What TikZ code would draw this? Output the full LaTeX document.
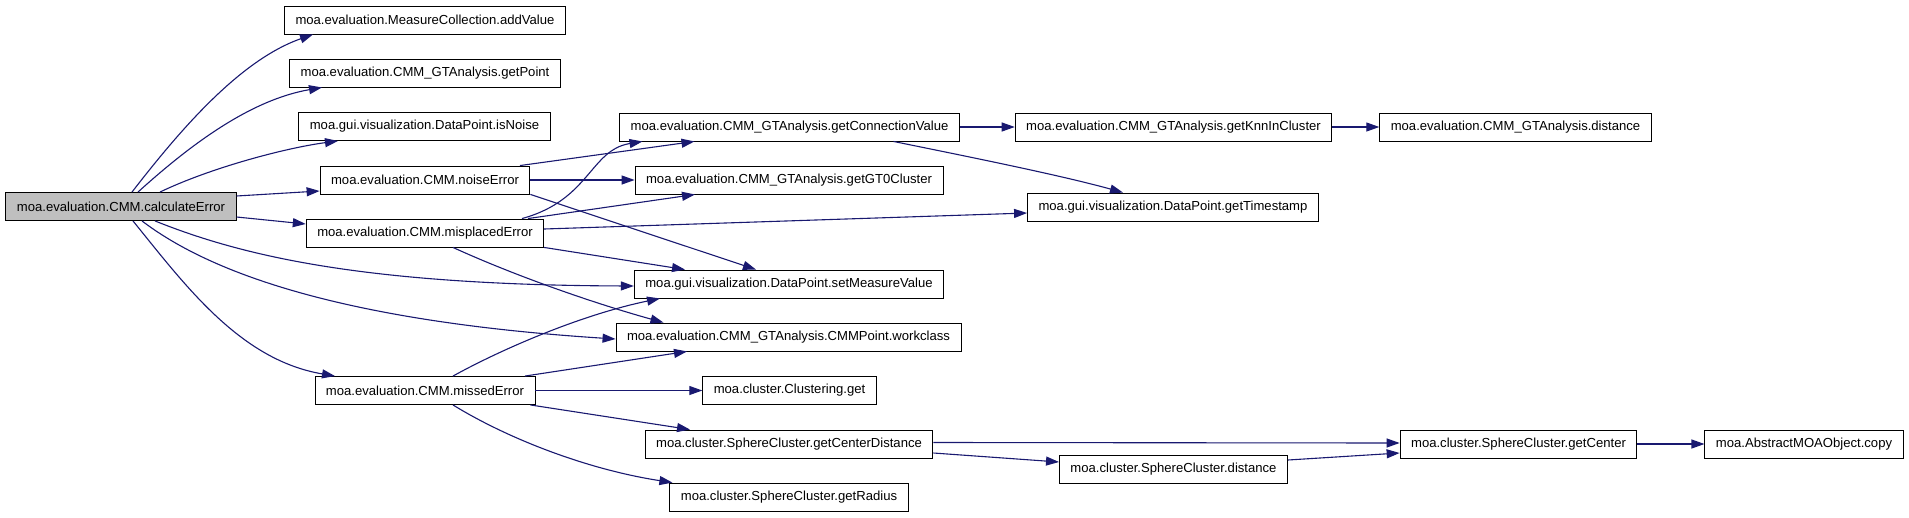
\documentclass[tikz,border=0pt]{standalone}
\usepackage{fontspec}
\setmainfont{Liberation Sans}
\usepackage{xcolor}
\definecolor{edgeblue}{RGB}{25,25,112}
\definecolor{rootgray}{RGB}{191,191,191}
\usetikzlibrary{arrows.meta, calc}
\tikzset{
  fn/.style={draw=black, line width=0.9pt, fill=white, minimum height=28pt,
    inner xsep=11pt, inner ysep=0pt, font=\fontsize{13.1}{15}\selectfont},
  rootfn/.style={fn, fill=rootgray},
  call/.style={edgeblue, line width=1.1pt, -{Triangle[length=13pt,width=9pt]}}
}

\begin{document}
\begin{tikzpicture}[x=1pt, y=-1pt]
  \useasboundingbox (0,0) rectangle (1909,517);

  % Root
  \node[rootfn] (calcErr) at (121,206.5) {moa.evaluation.CMM.calculateError};

  % --- Rank 1 ---
  \node[fn] (addValue) at (425,20) {moa.evaluation.MeasureCollection.addValue};
  \node[fn] (getPoint) at (425,73) {moa.evaluation.CMM\_GTAnalysis.getPoint};
  \node[fn] (isNoise) at (424.5,126.5) {moa.gui.visualization.DataPoint.isNoise};
  \node[fn] (noiseErr) at (425,180) {moa.evaluation.CMM.noiseError};
  \node[fn] (misplErr) at (425,233) {moa.evaluation.CMM.misplacedError};
  \node[fn] (missedErr) at (425,390.5) {moa.evaluation.CMM.missedError};

  % --- Rank 2 ---
  \node[fn] (getConnVal) at (789.5,127) {moa.evaluation.CMM\_GTAnalysis.getConnectionValue};
  \node[fn] (getGTZero) at (789,180) {moa.evaluation.CMM\_GTAnalysis.getGT0Cluster};
  \node[fn] (setMeasVal) at (789,284) {moa.gui.visualization.DataPoint.setMeasureValue};
  \node[fn] (workclass) at (788.5,337) {moa.evaluation.CMM\_GTAnalysis.CMMPoint.workclass};
  \node[fn] (clustGet) at (789.5,390.5) {moa.cluster.Clustering.get};
  \node[fn] (getCtrDist) at (789,444) {moa.cluster.SphereCluster.getCenterDistance};
  \node[fn] (getRadius) at (789,497) {moa.cluster.SphereCluster.getRadius};

  % --- Rank 3 ---
  \node[fn] (getKnn) at (1173.5,127) {moa.evaluation.CMM\_GTAnalysis.getKnnInCluster};
  \node[fn] (getTstamp) at (1173,207) {moa.gui.visualization.DataPoint.getTimestamp};
  \node[fn] (sphDist) at (1173.5,469.5) {moa.cluster.SphereCluster.distance};

  % --- Rank 4 and 5 ---
  \node[fn] (gtDist) at (1515.5,127) {moa.evaluation.CMM\_GTAnalysis.distance};
  \node[fn] (getCenter) at (1518.5,444) {moa.cluster.SphereCluster.getCenter};
  \node[fn] (moaCopy) at (1804,444) {moa.AbstractMOAObject.copy};

  % Calls from calculateError
  \draw[call] ($(calcErr.north)+(11,0)$) .. controls (180,130) and (240,60) .. ($(addValue.south)+(-112,0)$);
  \draw[call] ($(calcErr.north)+(17,0)$) .. controls (190,145) and (250,100) .. ($(getPoint.south)+(-103,0)$);
  \draw[call] ($(calcErr.north)+(39,0)$) .. controls (210,168) and (285,148) .. ($(isNoise.south)+(-86.5,0)$);
  \draw[call] ($(calcErr.east)+(0,-10.5)$) -- ($(noiseErr.west)+(0,11)$);
  \draw[call] ($(calcErr.east)+(0,10.5)$) -- ($(misplErr.west)+(0,-9)$);
  \draw[call] ($(calcErr.south)+(34,0)$) .. controls (240,255) and (360,285) .. ($(setMeasVal.west)+(0,2)$);
  \draw[call] ($(calcErr.south)+(21,0)$) .. controls (200,265) and (320,320) .. ($(workclass.west)+(0,2)$);
  \draw[call] ($(calcErr.south)+(12,0)$) .. controls (185,285) and (240,360) .. ($(missedErr.north)+(-90,0)$);

  % Calls from noiseError
  \draw[call] ($(noiseErr.north)+(95,0)$) -- ($(getConnVal.south)+(-95,0)$);
  \draw[call] (noiseErr.east) -- (getGTZero.west);
  \draw[call] (noiseErr.south east) -- ($(setMeasVal.north)+(-33,0)$);

  % Calls from misplacedError
  \draw[call] ($(misplErr.north)+(97,0)$) .. controls (590,200) and (590,150) .. ($(getConnVal.south)+(-147,0)$);
  \draw[call] ($(misplErr.north)+(103,0)$) -- ($(getGTZero.south)+(-94,0)$);
  \draw[call] ($(misplErr.east)+(0,-4)$) -- ($(getTstamp.west)+(0,6)$);
  \draw[call] (misplErr.south east) -- ($(setMeasVal.north)+(-104,0)$);
  \draw[call] ($(misplErr.south)+(28,0)$) .. controls (520,278) and (600,305) .. ($(workclass.north)+(-125,0)$);

  % Calls from missedError
  \draw[call] ($(missedErr.north)+(28,0)$) .. controls (500,350) and (580,315) .. ($(setMeasVal.south)+(-129,0)$);
  \draw[call] ($(missedErr.north)+(100,0)$) -- ($(workclass.south)+(-101.5,0)$);
  \draw[call] (missedErr.east) -- (clustGet.west);
  \draw[call] ($(missedErr.south east)+(-5,0)$) -- ($(getCtrDist.north)+(-99,0)$);
  \draw[call] ($(missedErr.south)+(28,0)$) .. controls (510,440) and (590,470) .. ($(getRadius.north west)+(3,0)$);

  % Deeper calls
  \draw[call] (getConnVal.east) -- (getKnn.west);
  \draw[call] ($(getConnVal.south)+(104,0)$) .. controls (960,155) and (1060,175) .. ($(getTstamp.north)+(-50,0)$);
  \draw[call] (getKnn.east) -- (gtDist.west);
  \draw[call] ($(getCtrDist.east)+(0,-1.5)$) -- ($(getCenter.west)+(0,-1)$);
  \draw[call] ($(getCtrDist.east)+(0,9)$) -- ($(sphDist.west)+(0,-7.5)$);
  \draw[call] ($(sphDist.east)+(0,-9.5)$) -- ($(getCenter.west)+(0,9)$);
  \draw[call] (getCenter.east) -- (moaCopy.west);
\end{tikzpicture}
\end{document}
